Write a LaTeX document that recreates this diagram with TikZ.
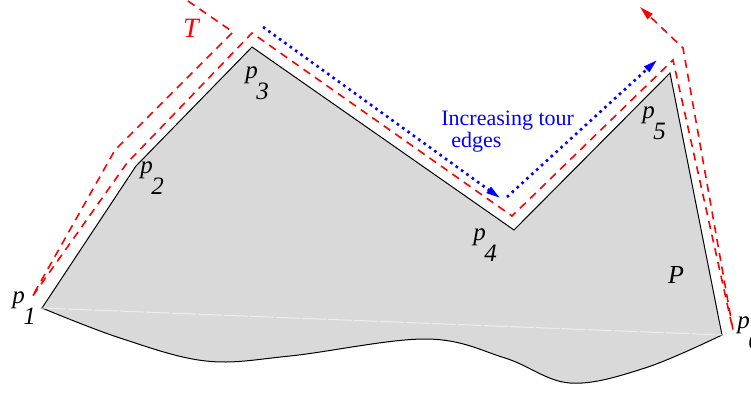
\documentclass[tikz,border=0pt]{standalone}
\usepackage{fontspec}
\setmainfont{Liberation Serif}
\usetikzlibrary{arrows.meta}
\newcommand{\vlab}[1]{\textit{p}\kern-0.8pt\raisebox{-10.5pt}{\textit{#1}}}

\begin{document}
\begin{tikzpicture}[x=0.5pt, y=-0.5pt,
  poly/.style={draw=black, line width=0.5pt, fill=black!15},
  chord/.style={draw=black!7, line width=0.5pt, dash pattern=on 12pt off 1pt},
  tour/.style={draw=red, line width=0.8pt, dash pattern=on 4pt off 3pt},
  incr/.style={draw=blue, line width=1.3pt, dash pattern=on 1.3pt off 2pt},
  tip/.style={-{Triangle[length=7pt,width=3.6pt]}},
  vtx/.style={inner sep=0pt, anchor=base west, font=\fontsize{12.5}{14}\selectfont}
]
\useasboundingbox (0,0) rectangle (751,392);
% polygon vertices
\coordinate (p1) at (42,308);
\coordinate (p2) at (136,166);
\coordinate (p3) at (252,47);
\coordinate (p4) at (514,230);
\coordinate (p5) at (670,73);
\coordinate (p6) at (722,335);
% polygon P with its wavy lower side
\path[poly] (p1) -- (p2) -- (p3) -- (p4) -- (p5) -- (p6)
  -- plot[smooth, tension=0.6] coordinates {(722,335) (645,368) (570,383) (505,358) (426,339) (290,356) (206,361) (120,338) (42,308)} -- cycle;
\draw[chord] (p1) -- (p6);
% tour T
\coordinate (t0) at (188,1);
\coordinate (t1) at (233,32);
\coordinate (t2) at (115,150);
\coordinate (t3) at (32,297);
\coordinate (t4) at (127,163);
\coordinate (t5) at (252,33);
\coordinate (t6) at (512,216);
\coordinate (t7) at (673,60);
\coordinate (t8) at (733,330);
\coordinate (t9) at (683,48);
\coordinate (t10) at (640,7);
\draw[tour, tip] (t0) -- (t1) -- (t2) -- (t3) -- (t4) -- (t5) -- (t6) -- (t7) -- (t8) -- (t9) -- (t10);
% increasing edges
\coordinate (b0) at (263,27);
\coordinate (b1) at (500,198);
\coordinate (b2) at (507,197);
\coordinate (b3) at (657,60);
\draw[incr, tip] (b0) -- (b1);
\draw[incr, tip] (b2) -- (b3);
% labels
\node[vtx] (l1) at (12,303) {\vlab{1}};
\node[vtx] (l2) at (140,173) {\vlab{2}};
\node[vtx] (l3) at (245,78) {\vlab{3}};
\node[vtx] (l4) at (473,240) {\vlab{4}};
\node[vtx] (l5) at (642,118) {\vlab{5}};
\node[vtx] (l6) at (737,328) {\vlab{6}};
\node[font=\fontsize{13}{15}\selectfont\itshape, inner sep=0pt] (lp) at (676,275) {P};
\node[font=\fontsize{14}{16}\selectfont\itshape, text=red, inner sep=0pt] (lt) at (191,28) {T};
\node[font=\fontsize{11}{10}\selectfont, text=blue, inner sep=0pt, anchor=north west, align=left] (lbl) at (441,111) {Increasing tour\\\hspace*{5pt}edges};
\end{tikzpicture}
\end{document}
